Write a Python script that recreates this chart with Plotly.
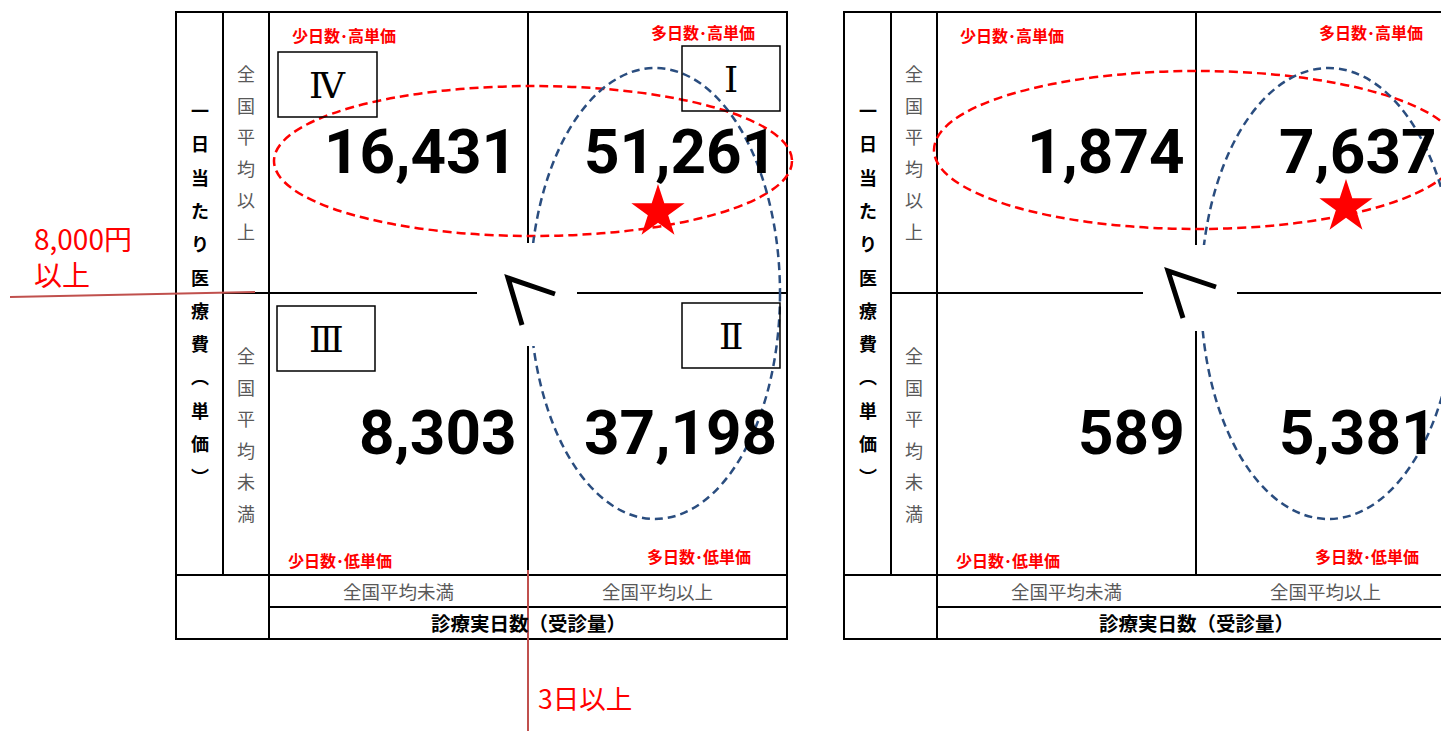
import plotly.graph_objects as go

W, H = 1441, 731

# ---------------- data ----------------
quadrant_labels = ["少日数･高単価", "多日数･高単価", "少日数･低単価", "多日数･低単価"]
roman_numerals = ["Ⅳ", "Ⅰ", "Ⅲ", "Ⅱ"]
left_counts = [16431, 51261, 8303, 37198]
right_counts = [1874, 7637, 589, 5381]
y_title_chars = ["一", "日", "当", "た", "り", "医", "療", "費", "︵", "単", "価", "︶"]
row_labels = ["全国平均以上", "全国平均未満"]
col_labels = ["全国平均未満", "全国平均以上"]
x_title = "診療実日数（受診量）"
price_threshold = "8,000円<br>以上"
days_threshold = "3日以上"

# ---------------- layout geometry (pixels) ----------------
panel_dx = [0, 668]
LBOX, TBOX, RBOX, BBOX = 176, 12, 787, 639
C1, C2, CMID = 223, 269, 528
RMID, R1, R2 = 293, 575, 607

BLACK = "#000000"
GRAY = "#595959"
RED = "#FF0000"
DARKRED = "#C0504D"
BLUE = "#2A4D7F"
JP = "Noto Sans CJK JP"
NUMFONT = "Roboto, Noto Sans CJK JP"

shapes = []
annotations = []


def line(x0, y0, x1, y1, color=BLACK, width=2, dash="solid"):
    shapes.append(dict(type="line", xref="x", yref="y", x0=x0, y0=y0, x1=x1, y1=y1,
                       line=dict(color=color, width=width, dash=dash)))


def text(x, y, s, size, color=BLACK, weight="normal", xanchor="center", family=JP, xshift=0):
    annotations.append(dict(x=x, y=y, xref="x", yref="y", text=s, showarrow=False,
                            xanchor=xanchor, yanchor="middle", xshift=xshift,
                            font=dict(family=family, size=size, color=color, weight=weight)))


panels = [
    dict(counts=left_counts, red_ell=(274, 86, 792, 236), blue_ell=(530, 68, 780, 519),
         gap=(477, 243, 577, 346), chevron=[(555, 294), (508, 278), (522, 325)],
         star=(658, 212), boxes=True),
    dict(counts=right_counts, red_ell=(934, 71, 1459, 229), blue_ell=(1201, 68, 1456, 519),
         gap=(1143, 245, 1237, 331), chevron=[(1216, 287), (1168, 271), (1183, 318)],
         star=(1346, 207), boxes=False),
]

star_x, star_y = [], []

for p, dx in zip(panels, panel_dx):
    # grid lines
    shapes.append(dict(type="rect", xref="x", yref="y", x0=LBOX + dx, y0=TBOX, x1=RBOX + dx, y1=BBOX,
                       line=dict(color=BLACK, width=2)))
    line(C1 + dx, TBOX, C1 + dx, R1)
    line(C2 + dx, TBOX, C2 + dx, BBOX)
    line(C1 + dx, RMID, C2 + dx, RMID)
    line(LBOX + dx, R1, RBOX + dx, R1)
    line(C2 + dx, R2, RBOX + dx, R2)
    line(C2 + dx, RMID, RBOX + dx, RMID)
    line(CMID + dx, TBOX, CMID + dx, R1)

    # ellipses
    x0, y0, x1, y1 = p["red_ell"]
    shapes.append(dict(type="circle", xref="x", yref="y", x0=x0, y0=y0, x1=x1, y1=y1,
                       line=dict(color=RED, width=2.5, dash="9px,5px")))
    x0, y0, x1, y1 = p["blue_ell"]
    shapes.append(dict(type="circle", xref="x", yref="y", x0=x0, y0=y0, x1=x1, y1=y1,
                       line=dict(color=BLUE, width=2.5, dash="8px,5px")))

    # white gap around the "<" sign
    x0, y0, x1, y1 = p["gap"]
    shapes.append(dict(type="rect", xref="x", yref="y", x0=x0, y0=y0, x1=x1, y1=y1,
                       fillcolor="white", line=dict(width=0)))
    pts = p["chevron"]
    path = "M {} {} L {} {} L {} {}".format(*[c for pt in pts for c in pt])
    shapes.append(dict(type="path", xref="x", yref="y", path=path,
                       line=dict(color=BLACK, width=5)))

    star_x.append(p["star"][0])
    star_y.append(p["star"][1])

    # quadrant numbers (right-aligned in each cell, kept inside the page)
    c = p["counts"]
    num_pos = [(519, 151), (779, 151), (519, 432), (779, 432)]
    for v, (nx, ny) in zip(c, num_pos):
        x = min(nx + dx, W - 2)
        text(x, ny, f"{v:,}", 62, weight="bold", xanchor="right", family=NUMFONT)

    # red quadrant labels
    lab_pos = [(344, 35), (703, 32), (340, 560), (699, 556)]
    for s, (lx, ly) in zip(quadrant_labels, lab_pos):
        text(lx + dx, ly, s, 16, color=RED, weight="bold")

    # vertical axis title
    for i, ch in enumerate(y_title_chars):
        text(199.5 + dx, 110 + i * 33.3, ch, 18, weight="bold")
    # row labels (vertical)
    for label, ystart in zip(row_labels, [73, 355]):
        for i, ch in enumerate(label):
            text(246 + dx, ystart + i * 31.5, ch, 18, color=GRAY)
    # column labels
    for label, cx in zip(col_labels, [398, 657]):
        text(cx + dx, 591, label, 18.5, color=GRAY)
    text(528 + dx, 622, x_title, 19.5, weight="bold")

    # roman numeral boxes
    if p["boxes"]:
        boxes = [(278, 52, 377, 117), (682, 46, 780, 111), (277, 306, 375, 371), (682, 303, 780, 368)]
        for rn, (bx0, by0, bx1, by1) in zip(roman_numerals, boxes):
            shapes.append(dict(type="rect", xref="x", yref="y", x0=bx0, y0=by0, x1=bx1, y1=by1,
                               line=dict(color=BLACK, width=1.5)))
            text((bx0 + bx1) / 2, (by0 + by1) / 2 + 1, rn, 36, family="DejaVu Serif, Noto Sans CJK JP")

# threshold markers
line(10, 297, 255, 292, color=DARKRED, width=2)
line(528, 570, 528, 731, color=DARKRED, width=2)
annotations.append(dict(x=32, y=256, xref="x", yref="y", text=price_threshold, showarrow=False,
                        xanchor="left", yanchor="middle", align="left",
                        font=dict(family=JP, size=28, color=RED)))
text(536, 697, days_threshold, 26.5, color=RED, xanchor="left")

fig = go.Figure()
fig.add_trace(go.Scatter(x=star_x, y=star_y, mode="markers", hoverinfo="skip",
                         marker=dict(symbol="star", size=40, color=RED, line=dict(width=0))))

fig.update_layout(
    width=W, height=H, margin=dict(l=0, r=0, t=0, b=0),
    paper_bgcolor="white", plot_bgcolor="white", showlegend=False,
    xaxis=dict(range=[0, W], visible=False, fixedrange=True),
    yaxis=dict(range=[H, 0], visible=False, fixedrange=True),
    shapes=shapes, annotations=annotations,
)

fig.write_html("out.html", post_script="document.body.style.margin='0';",
               config={"displayModeBar": False})
